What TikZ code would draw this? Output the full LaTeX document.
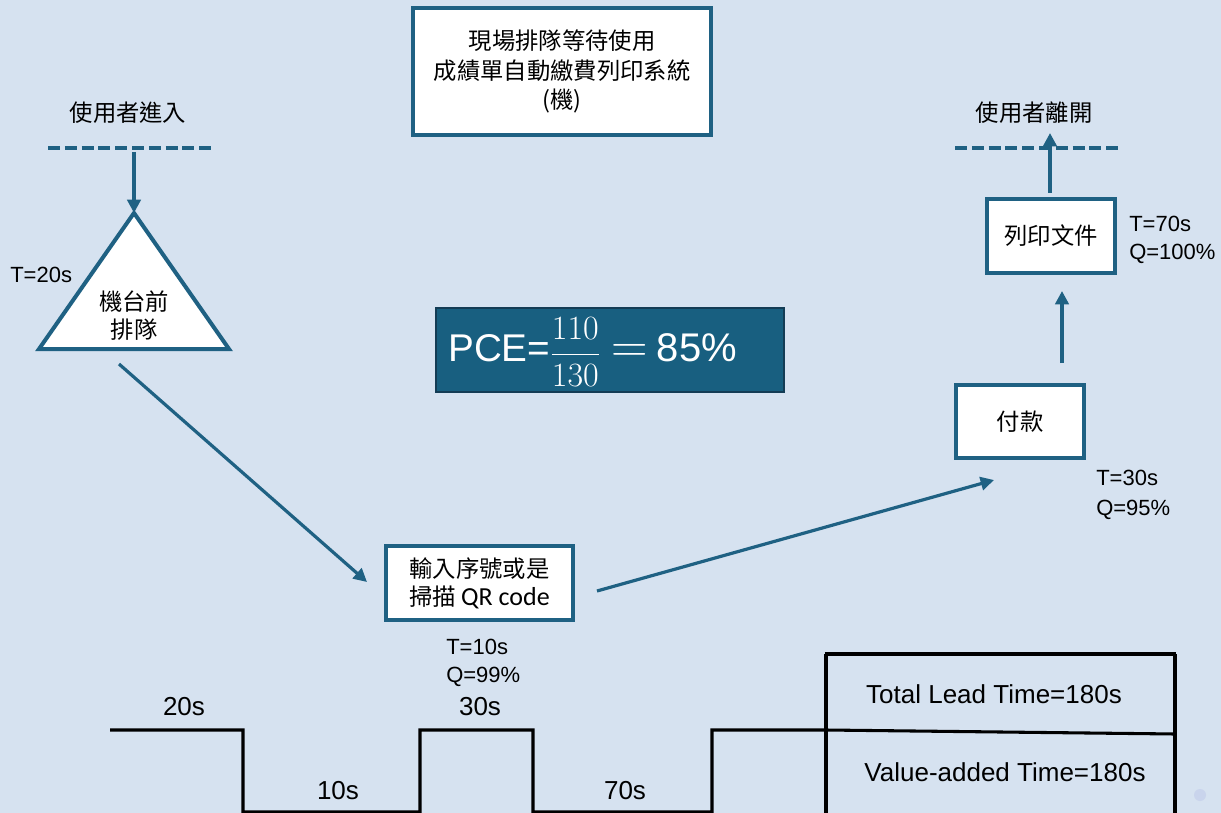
\RequirePackage{fix-cm}
\documentclass[tikz,border=0pt]{standalone}
\usepackage{fontspec}
\setmainfont{Liberation Sans}
\newfontfamily\cjk{Noto Sans CJK TC}
\newfontfamily\calfont{Carlito}
\usetikzlibrary{arrows.meta}
\definecolor{bg}{RGB}{214,226,240}
\definecolor{mblue}{RGB}{31,97,131}
\definecolor{pcefill}{RGB}{24,95,128}
\definecolor{dotc}{RGB}{201,212,236}
\tikzset{
  box/.style={draw=mblue, line width=3pt, fill=white, inner sep=0pt, align=center,
    font=\cjk\fontsize{17.5}{21}\selectfont},
  arr/.style={draw=mblue, line width=3pt, -{Triangle[length=10pt,width=10pt]}},
  darr/.style={draw=mblue, line width=2.4pt, -{Triangle[length=10pt,width=10pt]}},
  gate/.style={draw=mblue, line width=3pt, dash pattern=on 9pt off 3.6pt},
  cjklabel/.style={font=\cjk\fontsize{17.5}{21}\selectfont, inner sep=0pt},
  tq/.style={font=\fontsize{16.5}{21}\selectfont, align=left, anchor=west, inner sep=0pt},
  tl/.style={font=\fontsize{19.5}{22}\selectfont, inner sep=0pt},
  step line/.style={draw=black, line width=2.3pt},
}
\begin{document}
\begin{tikzpicture}[x=0.75pt,y=-0.75pt]
\fill[bg] (0,0) rectangle (1221,813);
\useasboundingbox (0,0) rectangle (1221,813);

% title
\node[box, minimum width=223.5pt, minimum height=95.25pt, font=\cjk\fontsize{17.5}{22}\selectfont] (title) at (562,71.5)
  {現場排隊等待使用\\成績單自動繳費列印系統\\(機)};

% entry
\node[cjklabel] (entrytxt) at (128,113) {使用者進入};
\coordinate (gL1) at (48,148);
\coordinate (gL2) at (212,148);
\draw[gate] (gL1) -- (gL2);
\coordinate (entry) at (134,152);

% triangle
\coordinate (triTop) at (134,213);
\coordinate (triR) at (229,349);
\coordinate (triL) at (39,349);
\draw[draw=mblue, line width=3pt, fill=white, line join=miter] (triTop) -- (triR) -- (triL) -- cycle;
\node[cjklabel, align=center, font=\cjk\fontsize{17.5}{21}\selectfont] (tri) at (134,316) {機台前\\排隊};
\draw[arr] (entry) -- (triTop);
\node[tq] (t20) at (10,275) {T=20s};

% PCE
\node[draw={rgb,255:red,20;green,60;blue,85}, line width=0.8pt, fill=pcefill, minimum width=261pt, minimum height=63pt, inner sep=0pt] (pcebox) at (610,350) {};
\node[text=white, inner sep=0pt, anchor=west, font=\fontsize{29}{30}\selectfont] (pce) at (448,352)
  {PCE=\raisebox{-1pt}{\fontsize{25.5}{28}\selectfont$\displaystyle\frac{110}{130}$}\hspace{8pt}\raisebox{-1pt}{\fontsize{38}{40}\selectfont$=$}\hspace{7pt}{\fontsize{30}{30}\selectfont 85\%}};

% scan box
\node[box, minimum width=140.25pt, minimum height=55.5pt] (scan) at (479.5,583)
  {輸入序號或是\\掃描 {\calfont\fontsize{19.5}{21}\selectfont QR code}};
\node[tq] (tq10) at (446,663) {T=10s\\Q=99\%};

% pay
\node[box, minimum width=96pt, minimum height=54.75pt] (pay) at (1020,421.5) {付款};
\node[tq, font=\fontsize{16.5}{22.5}\selectfont] (tq30) at (1096,495) {T=30s\\Q=95\%};

% print
\node[box, minimum width=96pt, minimum height=55.5pt] (print) at (1051,236) {列印文件};
\node[tq] (tq70) at (1129,240) {T=70s\\Q=100\%};

% exit
\node[cjklabel] (exittxt) at (1034,113) {使用者離開};
\coordinate (gR1) at (955,148);
\coordinate (gR2) at (1119,148);
\draw[gate] (gR1) -- (gR2);
\coordinate (exit) at (1050,133);

% connectors
\coordinate (d1s) at (119,364);
\coordinate (d1e) at (367,582);
\draw[darr] (d1s) -- (d1e);
\coordinate (d2s) at (597,591);
\coordinate (d2e) at (994,480);
\draw[darr] (d2s) -- (d2e);
\coordinate (u1s) at (1062,363);
\coordinate (u1e) at (1062,291);
\draw[arr] (u1s) -- (u1e);
\draw[arr] ([yshift=3pt]print.north -| exit) -- (exit);

% timeline
\draw[step line, line join=miter] (110,730) -- (243,730) -- (243,812) -- (420,812) -- (420,730) -- (533,730) -- (533,812) -- (712,812) -- (712,730) -- (826,730) -- (1175,734);
\draw[step line] (826,654) -- (826,815);
\draw[step line] (1175,654) -- (1175,815);
\draw[draw=black, line width=3.2pt] (824.8,654) -- (1176.2,654);
\node[tl] (l20) at (184,707) {20s};
\node[tl] (l10) at (338,791) {10s};
\node[tl] (l30) at (480,707) {30s};
\node[tl] (l70) at (625,791) {70s};
\node[tl] (ltot) at (994,694) {Total Lead Time=180s};
\node[tl] (lva) at (1005,772) {Value-added Time=180s};

\fill[dotc] (1200,795) circle (4.5pt);
\end{tikzpicture}
\end{document}
